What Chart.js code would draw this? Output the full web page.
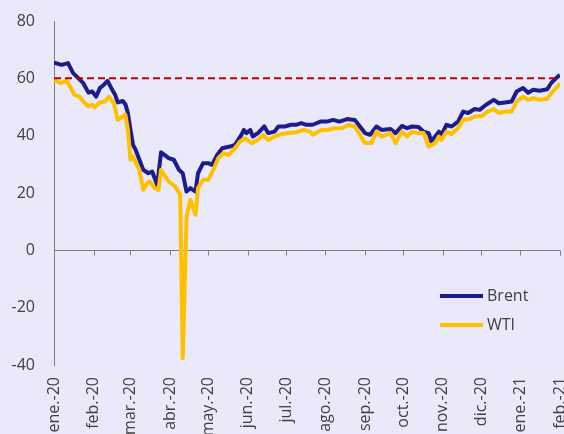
<!DOCTYPE html>
<html>
<head>
<meta charset="utf-8">
<script src="https://cdn.jsdelivr.net/npm/chart.js@4.4.1/dist/chart.umd.min.js"></script>
<style>
  html, body { margin: 0; padding: 0; background: #e9e9f9; }
  canvas { display: block; }
</style>
</head>
<body>
<canvas id="c" width="564" height="434"></canvas>
<script>
// Month tick labels and their day offsets (days since 1 Jan 2020)
const monthLabels = ['ene.-20','feb.-20','mar.-20','abr.-20','may.-20','jun.-20','jul.-20','ago.-20','sep.-20','oct.-20','nov.-20','dic.-20','ene.-21','feb.-21'];
const monthDays = [0,31,60,91,121,152,182,213,244,274,305,335,366,397];

// Brent (USD/barrel)
const brentDays = [0,6,11,15,19,23,27,30,33,36,39,42,45,48,50,54,56,58,60,62,64,67,70,74,77,81,84,90,94,98,101,104,107,111,113,117,121,124,128,132,138,142,147,149,151,154,156,160,165,168,173,176,181,186,190,194,198,203,209,214,219,224,230,236,240,244,248,253,257,264,268,273,277,281,286,290,294,296,302,304,308,312,317,321,325,330,334,339,345,349,354,359,363,368,372,376,381,387,390,394,397];
const brentValues = [65.5,64.7,65.3,61.8,60.1,58.3,55.0,55.4,53.6,56.6,57.7,59.1,56.6,54.2,51.6,52.1,51.0,47.9,42.0,36.8,35.1,31.6,28.1,26.9,27.5,22.8,34.2,32.2,31.6,28.1,26.9,20.5,21.7,20.5,26.9,30.4,30.4,29.8,33.3,35.6,36.2,36.8,40.3,42.0,40.9,42.0,39.7,40.9,43.2,40.9,41.4,43.2,43.2,43.8,43.8,44.4,43.8,43.8,44.9,44.9,45.5,44.9,45.8,45.5,43.2,40.9,40.3,43.2,42.0,42.3,40.9,43.4,42.6,43.2,43.0,41.4,40.9,38.0,41.4,40.3,43.8,43.2,44.9,48.4,47.9,49.3,49.0,50.8,52.5,51.3,51.6,51.9,55.4,56.6,55.0,56.0,55.7,56.2,58.3,60.1,61.2];

// WTI (USD/barrel)
const wtiDays = [0,5,10,14,16,20,23,27,30,32,36,40,43,47,50,54,56,58,60,62,65,67,70,73,75,79,82,84,90,95,99,101,104,107,111,113,117,121,125,129,133,137,141,146,150,155,160,164,168,173,179,184,189,196,201,203,210,215,220,226,231,236,240,244,249,253,257,264,268,273,277,281,286,290,294,299,302,304,308,312,317,321,326,330,336,339,345,349,354,359,363,368,372,376,381,387,390,394,397];
const wtiValues = [59.5,58.3,59.1,56.0,54.2,53.6,51.9,50.2,50.8,49.9,51.6,51.9,53.6,51.3,45.5,46.7,47.3,42.0,31.6,32.7,29.8,28.1,21.1,23.4,24.0,21.7,21.1,28.1,24.0,22.3,19.4,-37.6,11.8,17.6,12.4,21.7,24.6,24.6,28.1,32.2,33.9,33.3,35.1,38.0,39.1,37.4,38.5,40.3,38.5,39.7,40.6,40.9,41.1,42.0,41.4,40.3,42.0,42.0,42.6,42.6,43.8,43.2,40.3,37.4,37.4,41.4,39.7,40.9,37.4,41.4,39.7,41.4,40.9,40.9,36.2,37.4,39.7,38.5,41.4,40.6,42.6,45.5,45.8,46.7,46.9,48.1,49.3,47.9,48.4,48.4,51.9,53.6,52.5,53.1,52.5,52.8,54.8,56.6,58.3];

// Reference level
const refLevel = 60;

const yMin = -40, yMax = 80, yStep = 20;

const BRENT = '#1c1c8e';
const WTI = '#ffc000';
const RED = '#c00000';
const AXIS = '#7f7f7f';
const TEXT = '#404040';
const FONT = "'Open Sans', 'Liberation Sans', sans-serif";

const toPts = (xs, ys) => xs.map((x, i) => ({ x, y: ys[i] }));

const zeroAxisPlugin = {
  id: 'zeroAxis',
  beforeDatasetsDraw(chart) {
    const { ctx, chartArea, scales: { x, y } } = chart;
    const y0 = Math.round(y.getPixelForValue(0)) + 0.5;
    ctx.save();
    ctx.strokeStyle = AXIS;
    ctx.lineWidth = 1;
    ctx.beginPath();
    ctx.moveTo(chartArea.left, y0);
    ctx.lineTo(chartArea.right, y0);
    monthDays.forEach(d => {
      const px = Math.round(x.getPixelForValue(d)) + 0.5;
      ctx.moveTo(px, y0);
      ctx.lineTo(px, y0 + 5);
    });
    ctx.stroke();
    ctx.restore();
  }
};

const legendPlugin = {
  id: 'customLegend',
  afterDraw(chart) {
    const { ctx, chartArea } = chart;
    const items = [{ label: 'Brent', color: BRENT }, { label: 'WTI', color: WTI }];
    const x0 = chartArea.right - 120;
    const yStart = chartArea.bottom - 69;
    ctx.save();
    ctx.font = '16px ' + FONT;
    ctx.textBaseline = 'middle';
    ctx.textAlign = 'left';
    items.forEach((it, i) => {
      const yy = yStart + i * 29;
      ctx.strokeStyle = it.color;
      ctx.lineWidth = 4;
      ctx.beginPath();
      ctx.moveTo(x0, yy);
      ctx.lineTo(x0 + 43, yy);
      ctx.stroke();
      ctx.fillStyle = TEXT;
      ctx.fillText(it.label, x0 + 47, yy);
    });
    ctx.restore();
  }
};

const bgPlugin = {
  id: 'bg',
  beforeDraw(chart) {
    const { ctx } = chart;
    ctx.save();
    ctx.fillStyle = '#e9e9f9';
    ctx.fillRect(0, 0, chart.width, chart.height);
    ctx.restore();
  }
};

new Chart(document.getElementById('c'), {
  type: 'line',
  data: {
    datasets: [
      {
        label: 'ref',
        data: [{ x: monthDays[0], y: refLevel }, { x: monthDays[monthDays.length - 1], y: refLevel }],
        borderColor: RED,
        borderWidth: 2,
        borderDash: [7, 4],
        pointRadius: 0,
        tension: 0
      },
      {
        label: 'WTI',
        data: toPts(wtiDays, wtiValues),
        borderColor: WTI,
        borderWidth: 4,
        pointRadius: 0,
        tension: 0,
        borderJoinStyle: 'round'
      },
      {
        label: 'Brent',
        data: toPts(brentDays, brentValues),
        borderColor: BRENT,
        borderWidth: 4,
        pointRadius: 0,
        tension: 0,
        borderJoinStyle: 'round'
      }
    ]
  },
  options: {
    responsive: false,
    animation: false,
    layout: { padding: { top: 21, right: 4, left: 0, bottom: 0 } },
    plugins: { legend: { display: false }, tooltip: { enabled: false } },
    scales: {
      x: {
        type: 'linear',
        min: monthDays[0],
        max: monthDays[monthDays.length - 1],
        grid: { display: false, drawTicks: false },
        border: { display: false },
        afterBuildTicks(scale) {
          scale.ticks = monthDays.map(v => ({ value: v }));
        },
        afterFit(scale) {
          scale.height = 69;
          scale.paddingLeft = 0;
          scale.paddingRight = 0;
        },
        ticks: {
          autoSkip: false,
          minRotation: 90,
          maxRotation: 90,
          padding: 12,
          color: TEXT,
          font: { family: FONT, size: 16 },
          callback: (v, i) => monthLabels[i]
        }
      },
      y: {
        min: yMin,
        max: yMax,
        grid: { display: false, drawTicks: false },
        border: { display: true, color: AXIS, width: 1 },
        afterFit(scale) {
          scale.width = 54;
          scale.paddingTop = 0;
          scale.paddingBottom = 0;
        },
        ticks: {
          stepSize: yStep,
          padding: 19,
          color: TEXT,
          font: { family: FONT, size: 16 }
        }
      }
    }
  },
  plugins: [bgPlugin, zeroAxisPlugin, legendPlugin]
});
</script>
</body>
</html>
